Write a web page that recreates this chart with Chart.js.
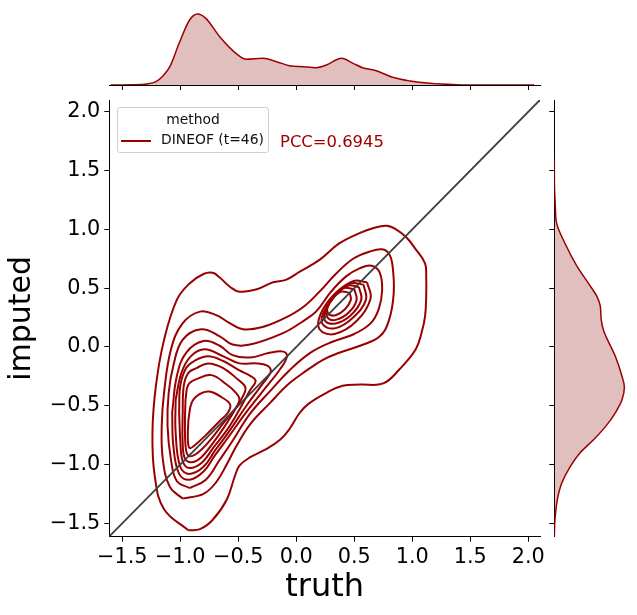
<!DOCTYPE html>
<html>
<head>
<meta charset="utf-8">
<script src="https://cdn.jsdelivr.net/npm/chart.js@4.4.1/dist/chart.umd.min.js"></script>
<style>
    html, body { margin:0; padding:0; background:#fff; }
    body { width:637px; height:615px; position:relative; overflow:hidden; font-family:"DejaVu Sans", sans-serif; }
    canvas { position:absolute; }
    #legend { position:absolute; left:117px; top:107px; width:152px; height:46px; box-sizing:border-box;
              border:1px solid #d0d0d0; border-radius:3px; background:rgba(255,255,255,0.85); color:#111; font-size:13.9px; }
    #legend .title { position:absolute; left:0; right:0; top:3px; text-align:center; }
    #legend .swatch { position:absolute; left:3px; top:32px; width:30px; height:2px; background:#9a0000; }
    #legend .label { position:absolute; left:43px; top:23px; }
    #pcc { position:absolute; left:280px; top:132px; color:#a00000; font-size:16.4px; }
</style>
</head>
<body>
<canvas id="top-kde" width="637" height="100" style="left:0; top:0;"></canvas>
<canvas id="right-kde" width="97" height="615" style="left:540px; top:0;"></canvas>
<canvas id="main" width="637" height="615" style="left:0; top:0;"></canvas>
<div id="legend">
    <div class="title">method</div>
    <div class="swatch"></div>
    <div class="label">DINEOF (t=46)</div>
</div>
<div id="pcc">PCC=0.6945</div>
<script>
// Joint KDE: truth vs imputed (DINEOF, t=46)
const lineColor = '#9a0000';
const fillColor = 'rgba(139,0,0,0.25)';

const tickValues = [-1.5, -1.0, -0.5, 0.0, 0.5, 1.0, 1.5, 2.0];
const xLimits = [-1.612, 2.101];
const yLimits = [-1.614, 2.100];

// marginal densities
const truthGrid = [-1.60, -1.41, -1.29, -1.21, -1.15, -1.09, -1.01, -0.92, -0.85, -0.78, -0.66, -0.52, -0.43, -0.29, -0.17, -0.06, 0.06, 0.17, 0.26, 0.39, 0.49, 0.57, 0.69, 0.83, 0.98, 1.15, 1.38, 1.67, 2.05];
const truthDensity = [0, 0.002, 0.009, 0.03, 0.081, 0.165, 0.375, 0.585, 0.639, 0.60, 0.435, 0.285, 0.231, 0.24, 0.21, 0.174, 0.165, 0.156, 0.18, 0.24, 0.195, 0.156, 0.129, 0.069, 0.036, 0.015, 0.003, 0, 0];

const imputedGrid = [-1.62, -1.58, -1.47, -1.30, -1.16, -1.02, -0.90, -0.79, -0.68, -0.56, -0.45, -0.34, -0.25, -0.08, 0.14, 0.23, 0.35, 0.43, 0.54, 0.69, 0.88, 1.05, 1.20, 1.39, 1.60];
const imputedDensity = [0, 0.001, 0.006, 0.027, 0.066, 0.141, 0.231, 0.351, 0.456, 0.546, 0.606, 0.627, 0.606, 0.546, 0.441, 0.42, 0.411, 0.381, 0.306, 0.201, 0.096, 0.021, 0.009, 0.001, 0];

// contour levels, outermost first: [truth, imputed]
const contourL1 = [[-0.93,-1.56],[-1.14,-1.38],[-1.22,-1.10],[-1.24,-0.73],[-1.21,-0.33],[-1.14,0.06],[-1.03,0.40],[-0.92,0.54],[-0.80,0.62],[-0.72,0.63],[-0.66,0.59],[-0.57,0.51],[-0.49,0.47],[-0.34,0.49],[-0.20,0.55],[-0.09,0.57],[0.03,0.64],[0.20,0.74],[0.37,0.88],[0.55,0.97],[0.66,1.01],[0.78,1.03],[0.86,1.00],[0.95,0.93],[1.03,0.83],[1.11,0.71],[1.12,0.60],[1.12,0.43],[1.11,0.26],[1.08,0.12],[1.03,-0.02],[0.89,-0.19],[0.75,-0.31],[0.55,-0.32],[0.40,-0.33],[0.26,-0.39],[0.11,-0.48],[0.03,-0.56],[-0.06,-0.70],[-0.14,-0.79],[-0.26,-0.87],[-0.40,-0.94],[-0.49,-1.01],[-0.53,-1.10],[-0.60,-1.30],[-0.72,-1.47],[-0.83,-1.55]];
const contourL2 = [[-0.98,-1.29],[-1.09,-1.19],[-1.15,-0.96],[-1.16,-0.67],[-1.14,-0.39],[-1.08,-0.02],[-0.98,0.20],[-0.83,0.30],[-0.69,0.27],[-0.57,0.20],[-0.46,0.15],[-0.29,0.17],[-0.11,0.24],[0.06,0.34],[0.20,0.47],[0.34,0.62],[0.49,0.75],[0.63,0.81],[0.74,0.83],[0.80,0.79],[0.83,0.69],[0.84,0.46],[0.80,0.23],[0.72,0.09],[0.55,0.01],[0.37,-0.05],[0.23,-0.11],[0.09,-0.20],[-0.06,-0.31],[-0.23,-0.48],[-0.40,-0.66],[-0.52,-0.85],[-0.60,-1.00],[-0.69,-1.15],[-0.80,-1.25]];
const contourL3 = [[-0.92,-1.20],[-1.03,-1.14],[-1.08,-0.96],[-1.11,-0.67],[-1.10,-0.39],[-1.06,-0.16],[-0.98,0.06],[-0.82,0.15],[-0.66,0.09],[-0.55,0.02],[-0.40,0.02],[-0.11,0.12],[0.06,0.22],[0.17,0.30],[0.30,0.47],[0.43,0.60],[0.55,0.67],[0.65,0.69],[0.72,0.63],[0.74,0.48],[0.71,0.32],[0.64,0.20],[0.50,0.11],[0.30,0.04],[0.12,-0.05],[-0.06,-0.20],[-0.23,-0.38],[-0.40,-0.57],[-0.55,-0.80],[-0.66,-0.96],[-0.78,-1.13]];
const contourL4 = [[-1.07,-0.56],[-1.03,-0.25],[-0.95,-0.05],[-0.80,0.05],[-0.66,0.01],[-0.55,-0.07],[-0.40,-0.09],[-0.23,-0.05],[-0.11,-0.04],[-0.08,-0.08],[-0.14,-0.19],[-0.30,-0.39],[-0.45,-0.58],[-0.58,-0.76],[-0.70,-0.92],[-0.80,-1.06],[-0.92,-1.13],[-1.01,-1.08],[-1.06,-0.84]];
const contourL5 = [[-1.04,-0.45],[-0.99,-0.22],[-0.91,-0.08],[-0.79,-0.02],[-0.63,-0.08],[-0.49,-0.14],[-0.34,-0.14],[-0.25,-0.16],[-0.22,-0.21],[-0.28,-0.30],[-0.43,-0.50],[-0.58,-0.72],[-0.70,-0.88],[-0.80,-1.02],[-0.92,-1.08],[-1.00,-1.02],[-1.04,-0.73]];
const contourL6 = [[-1.01,-0.56],[-1.00,-0.33],[-0.95,-0.18],[-0.88,-0.12],[-0.76,-0.08],[-0.63,-0.12],[-0.49,-0.20],[-0.39,-0.25],[-0.35,-0.29],[-0.40,-0.37],[-0.50,-0.55],[-0.60,-0.71],[-0.71,-0.85],[-0.81,-0.98],[-0.92,-1.03],[-0.98,-0.97],[-1.00,-0.79]];
const contourL7 = [[-0.98,-0.59],[-0.97,-0.33],[-0.93,-0.22],[-0.86,-0.18],[-0.76,-0.14],[-0.63,-0.18],[-0.50,-0.28],[-0.44,-0.34],[-0.45,-0.40],[-0.52,-0.52],[-0.62,-0.68],[-0.72,-0.82],[-0.82,-0.94],[-0.90,-0.98],[-0.96,-0.95],[-0.98,-0.80]];
const contourL8 = [[-0.955,-0.45],[-0.93,-0.32],[-0.85,-0.27],[-0.73,-0.24],[-0.60,-0.32],[-0.52,-0.39],[-0.49,-0.45],[-0.53,-0.53],[-0.63,-0.65],[-0.74,-0.79],[-0.85,-0.90],[-0.92,-0.93],[-0.95,-0.88],[-0.96,-0.67]];
const contourL9 = [[-0.93,-0.62],[-0.90,-0.47],[-0.83,-0.40],[-0.75,-0.38],[-0.64,-0.43],[-0.57,-0.49],[-0.59,-0.56],[-0.66,-0.63],[-0.78,-0.75],[-0.88,-0.84],[-0.92,-0.86],[-0.935,-0.79]];
// rings around the upper-right peak
const ringL4 = [[0.61,0.55],[0.49,0.56],[0.33,0.45],[0.21,0.28],[0.20,0.15],[0.33,0.11],[0.52,0.22],[0.64,0.41]];
const ringL5 = [[0.58,0.53],[0.47,0.54],[0.33,0.43],[0.23,0.28],[0.23,0.19],[0.34,0.16],[0.49,0.25],[0.60,0.40]];
const ringL6 = [[0.54,0.51],[0.44,0.52],[0.33,0.43],[0.25,0.30],[0.25,0.22],[0.34,0.20],[0.47,0.27],[0.56,0.40]];
const ringL7 = [[0.50,0.49],[0.41,0.50],[0.32,0.43],[0.26,0.33],[0.27,0.25],[0.34,0.23],[0.45,0.29],[0.52,0.40]];
const ringL8 = [[0.46,0.46],[0.39,0.47],[0.32,0.42],[0.27,0.34],[0.28,0.28],[0.34,0.27],[0.42,0.32],[0.47,0.40]];

const contours = [contourL1, contourL2, contourL3, contourL4, contourL5, contourL6, contourL7, contourL8, contourL9,
                  ringL4, ringL5, ringL6, ringL7, ringL8];

const fmtTick = v => (v < 0 ? '\u2212' : '') + Math.abs(v).toFixed(1);
const fixTicks = scale => { scale.ticks = tickValues.map(v => ({ value: v })); };
const tickFont = { family: 'DejaVu Sans', size: 20.8 };

// --- main joint plot ---
const contourDatasets = contours.map(c => ({
    data: c.concat([c[0]]).map(([x, y]) => ({ x, y })),
    showLine: true,
    borderColor: lineColor,
    borderWidth: 2,
    pointRadius: 0,
    tension: 0.4,
    order: 1
}));

new Chart(document.getElementById('main'), {
    type: 'scatter',
    data: {
        datasets: [...contourDatasets, {
            data: [{ x: xLimits[0], y: xLimits[0] }, { x: xLimits[1], y: xLimits[1] }],
            showLine: true,
            borderColor: '#3f3f3f',
            borderWidth: 1.8,
            pointRadius: 0,
            order: 0
        }]
    },
    options: {
        responsive: false,
        animation: false,
        events: [],
        layout: { padding: { left: 0, top: 100, right: 97, bottom: 0 } },
        plugins: { legend: { display: false }, tooltip: { enabled: false } },
        scales: {
            x: {
                type: 'linear', min: xLimits[0], max: xLimits[1],
                afterBuildTicks: fixTicks,
                afterFit: s => { s.height = 78.3; },
                grid: { drawOnChartArea: false, tickLength: 5, tickColor: '#000', tickWidth: 1 },
                border: { color: '#000', width: 1 },
                ticks: { color: '#000', font: tickFont, padding: 3, maxRotation: 0, callback: fmtTick },
                title: { display: true, text: 'truth', color: '#000', font: { family: 'DejaVu Sans', size: 32 }, padding: { top: 0, bottom: 8 } }
            },
            y: {
                type: 'linear', min: yLimits[0], max: yLimits[1],
                afterBuildTicks: fixTicks,
                afterFit: s => { s.width = 109.3; },
                grid: { drawOnChartArea: false, tickLength: 5, tickColor: '#000', tickWidth: 1 },
                border: { color: '#000', width: 1 },
                ticks: { color: '#000', font: tickFont, padding: 4, callback: fmtTick },
                title: { display: true, text: 'imputed', color: '#000', font: { family: 'DejaVu Sans', size: 30 }, padding: { top: 4, bottom: 0 } }
            }
        }
    }
});

// --- top marginal (truth) ---
new Chart(document.getElementById('top-kde'), {
    type: 'line',
    data: {
        datasets: [{
            data: truthGrid.map((x, i) => ({ x, y: truthDensity[i] })),
            borderColor: lineColor, borderWidth: 1.5, backgroundColor: fillColor,
            fill: 'origin', pointRadius: 0, cubicInterpolationMode: 'monotone'
        }]
    },
    options: {
        responsive: false,
        animation: false,
        events: [],
        layout: { padding: { left: 109.3, top: 0, right: 97, bottom: 0 } },
        plugins: { legend: { display: false }, tooltip: { enabled: false } },
        scales: {
            x: {
                type: 'linear', min: xLimits[0], max: xLimits[1],
                afterBuildTicks: fixTicks,
                afterFit: s => { s.height = 15; },
                grid: { drawOnChartArea: false, tickLength: 5, tickColor: '#000', tickWidth: 1 },
                border: { color: '#000', width: 1 },
                ticks: { display: false }
            },
            y: { type: 'linear', min: 0, max: 0.765, display: false }
        }
    }
});

// --- right marginal (imputed) ---
new Chart(document.getElementById('right-kde'), {
    type: 'line',
    data: {
        datasets: [{
            data: imputedGrid.map((y, i) => ({ x: imputedDensity[i], y })),
            borderColor: lineColor, borderWidth: 1.5, backgroundColor: fillColor,
            fill: 'origin', pointRadius: 0, cubicInterpolationMode: 'monotone'
        }]
    },
    options: {
        indexAxis: 'y',
        responsive: false,
        animation: false,
        events: [],
        layout: { padding: { left: 0, top: 100, right: 0, bottom: 78.3 } },
        plugins: { legend: { display: false }, tooltip: { enabled: false } },
        scales: {
            y: {
                type: 'linear', min: yLimits[0], max: yLimits[1],
                afterBuildTicks: fixTicks,
                afterFit: s => { s.width = 14.3; },
                grid: { drawOnChartArea: false, tickLength: 5, tickColor: '#000', tickWidth: 1 },
                border: { color: '#000', width: 1 },
                ticks: { display: false }
            },
            x: { type: 'linear', min: 0, max: 0.74, display: false }
        }
    }
});
</script>
</body>
</html>
